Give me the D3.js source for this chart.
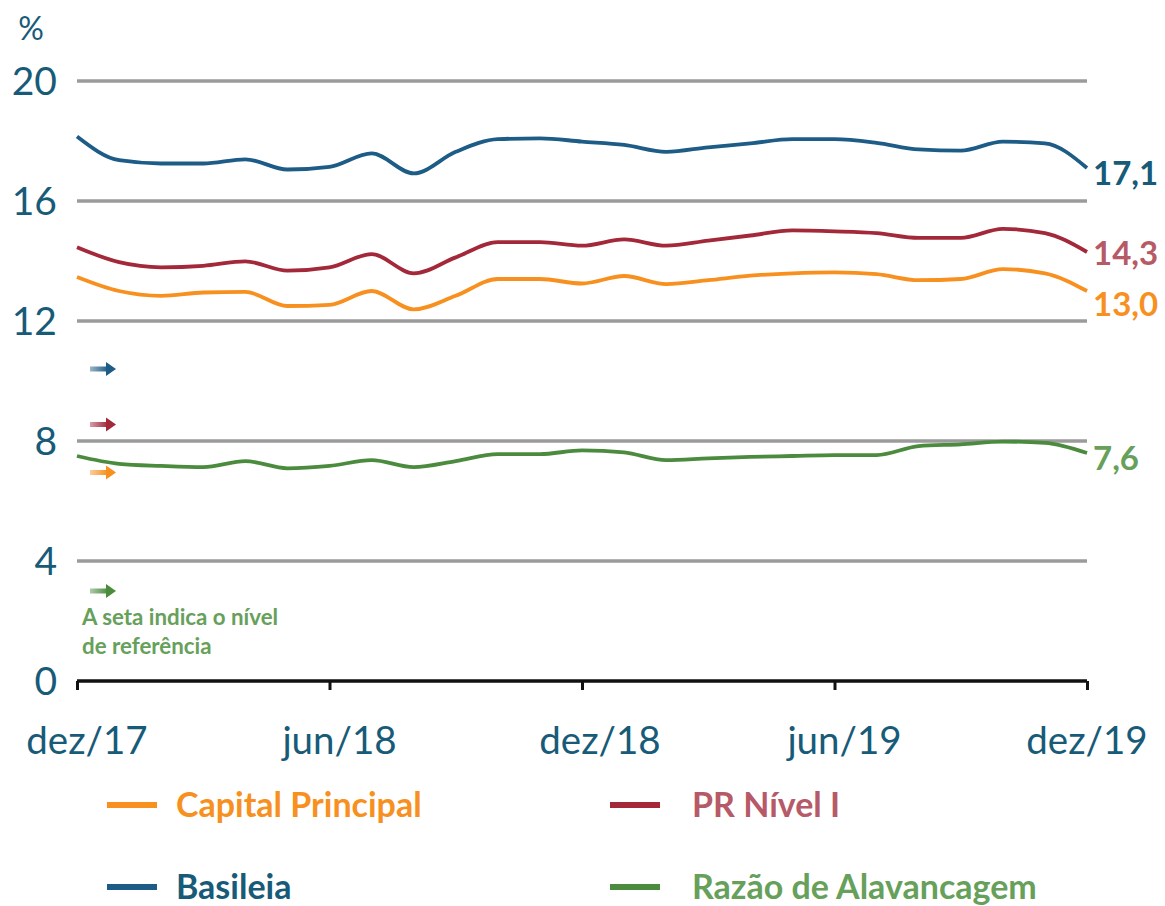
<!DOCTYPE html>
<html><head><meta charset="utf-8">
<script src="https://cdn.jsdelivr.net/npm/d3@7/dist/d3.min.js"></script>
<style>
body{margin:0;background:#fff;}
svg{display:block;font-family:Lato, "Open Sans", sans-serif;}
</style></head>
<body><svg id="c" width="1165" height="906"></svg>
<script>
const months = ["dez/17","jan/18","fev/18","mar/18","abr/18","mai/18","jun/18","jul/18","ago/18","set/18","out/18","nov/18","dez/18","jan/19","fev/19","mar/19","abr/19","mai/19","jun/19","jul/19","ago/19","set/19","out/19","nov/19","dez/19"];
const tickLabels = ["dez/17","jun/18","dez/18","jun/19","dez/19"];
const yTicks = [0,4,8,12,16,20];
const basileia = [18.15,17.36,17.25,17.25,17.39,17.05,17.14,17.59,16.92,17.64,18.06,18.09,17.98,17.87,17.64,17.79,17.92,18.06,18.06,17.94,17.72,17.68,17.98,17.92,17.1];
const prNivel1 = [14.46,13.96,13.79,13.84,13.99,13.68,13.79,14.23,13.59,14.12,14.63,14.63,14.51,14.72,14.51,14.68,14.85,15.02,14.99,14.93,14.77,14.77,15.07,14.93,14.3];
const capitalPrincipal = [13.47,13.0,12.84,12.95,12.97,12.5,12.54,13.0,12.39,12.84,13.4,13.4,13.25,13.5,13.23,13.36,13.51,13.59,13.62,13.56,13.36,13.4,13.73,13.59,13.0];
const alavancagem = [7.5,7.24,7.17,7.13,7.33,7.09,7.17,7.36,7.13,7.33,7.56,7.56,7.69,7.62,7.36,7.42,7.47,7.5,7.53,7.53,7.83,7.89,7.98,7.94,7.6];
const refLevels = [10.4, 8.55, 6.95, 3.0];   // Basileia, PR Nível I, Capital Principal, Alavancagem
const endLabels = ["17,1","14,3","13,0","7,6"];
const seriesNames = ["Basileia","PR Nível I","Capital Principal","Razão de Alavancagem"];
const lineColors = ["#1d5c86","#a3283a","#f7901e","#4b8b3e"];
const textColors = ["#175b78","#b65a68","#f7901e","#66a05a"];

const svg = d3.select("#c");
const x = d3.scaleLinear().domain([0, months.length-1]).range([77, 1087]);
const y = d3.scaleLinear().domain([0, 20]).range([681, 81]);
const seriesData = [basileia, prNivel1, capitalPrincipal, alavancagem];

// gridlines
svg.append("g").selectAll("line").data(yTicks.filter(d=>d>0)).join("line")
  .attr("x1", 77).attr("x2", 1087)
  .attr("y1", d=>y(d)).attr("y2", d=>y(d))
  .attr("stroke", "#9b9b9b").attr("stroke-width", 3.5);

// y labels
svg.append("g").selectAll("text").data(yTicks).join("text")
  .attr("x", 57).attr("y", d=>y(d)).attr("dy","0.36em")
  .attr("text-anchor","end").attr("font-size", 39)
  .attr("fill","#175b78").text(d=>d);
svg.append("text").attr("x", 31).attr("y", 40).attr("text-anchor","middle")
  .attr("font-size", 32).attr("fill","#175b78").text("%");

// x axis
const tickIdx = tickLabels.map(t=>months.indexOf(t));
const xAxis = d3.axisBottom(x).tickValues(tickIdx).tickSize(9).tickFormat(()=> "");
const gx = svg.append("g").attr("transform","translate(0,681)").call(xAxis);
gx.select(".domain").attr("stroke","#111").attr("stroke-width",3.5).attr("d","M77,0H1087");
gx.selectAll(".tick line").attr("stroke","#111").attr("stroke-width",3);
svg.append("g").selectAll("text").data(tickIdx).join("text")
  .attr("x", (d,i)=> x(d) + (i===tickIdx.length-1 ? 0 : (i===2 ? 18 : 10)))
  .attr("y", 754).attr("text-anchor","middle").attr("font-size",38.5)
  .attr("fill","#175b78").text(d=>months[d]);

// lines
const line = d3.line().x((d,i)=>x(i)).y(d=>y(d)).curve(d3.curveMonotoneX);
svg.append("g").selectAll("path").data(seriesData).join("path")
  .attr("d", line).attr("fill","none")
  .attr("stroke",(d,i)=>lineColors[i]).attr("stroke-width",3.8)
  .attr("stroke-linejoin","round");

// end labels
svg.append("g").selectAll("text").data(seriesData).join("text")
  .attr("x", 1093).attr("y",(d,i)=>{
    const v = d[d.length-1];
    let yy = y(v);
    if (i===2) yy += 8;
    if (i===1) yy -= 4;
    return yy + 5;
  })
  .attr("dy","0.35em").attr("font-size",33).attr("font-weight","bold")
  .attr("fill",(d,i)=>textColors[i]).text((d,i)=>endLabels[i]);

// reference arrows
const defs = svg.append("defs");
lineColors.forEach((c,i)=>{
  const g = defs.append("linearGradient").attr("id","g"+i).attr("x1","0").attr("x2","1");
  g.append("stop").attr("offset","0").attr("stop-color",c).attr("stop-opacity",0.45);
  g.append("stop").attr("offset","1").attr("stop-color",c).attr("stop-opacity",1);
});
const arrows = svg.append("g").selectAll("g").data(refLevels).join("g")
  .attr("transform", d=>`translate(90,${y(d)})`);
arrows.append("rect").attr("x",0).attr("y",-2.5).attr("width",18).attr("height",5)
  .attr("fill",(d,i)=>`url(#g${i})`);
arrows.append("path").attr("d","M16,-7L26,0L16,7Z").attr("fill",(d,i)=>lineColors[i]);

// note
svg.append("text").attr("x",82).attr("y",625).attr("font-size",22.3).attr("font-weight","bold")
  .attr("fill","#66a05a").text("A seta indica o nível");
svg.append("text").attr("x",82).attr("y",654).attr("font-size",22.3).attr("font-weight","bold")
  .attr("fill","#66a05a").text("de referência");

// legend
const legendOrder = [2,1,0,3];
const legendPos = [[107,805],[610,805],[107,887],[610,887]];
const lg = svg.append("g").selectAll("g").data(legendOrder).join("g")
  .attr("transform",(d,i)=>`translate(${legendPos[i][0]},${legendPos[i][1]})`);
lg.append("line").attr("x1",0).attr("x2",50).attr("stroke",d=>lineColors[d]).attr("stroke-width",6);
lg.append("text").attr("x",(d,i)=> i%2===0 ? 69 : 82).attr("dy","0.35em")
  .attr("font-size",34).attr("font-weight","bold")
  .attr("fill",d=>textColors[d]).text(d=>seriesNames[d]);
</script></body></html>
